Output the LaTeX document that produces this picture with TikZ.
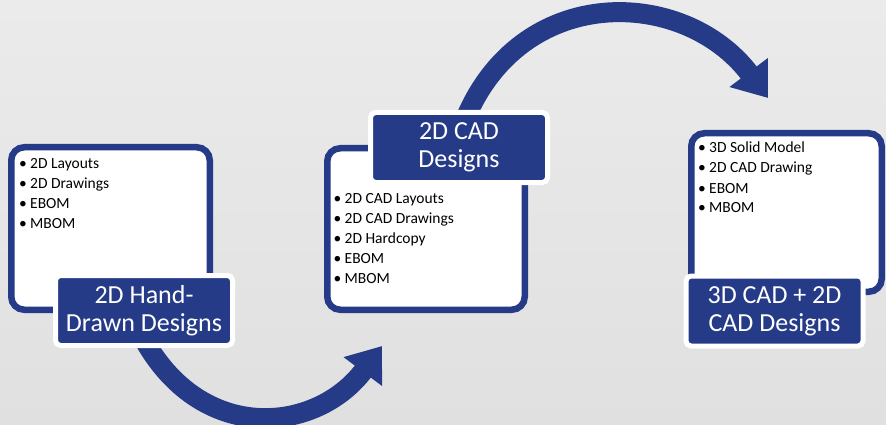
\documentclass[tikz,border=0pt]{standalone}
\usepackage{fontspec}
\setmainfont{Carlito}
\usetikzlibrary{arrows.meta,calc}
\definecolor{navy}{RGB}{38,59,135}
\definecolor{bgtop}{RGB}{235,235,235}
\definecolor{bgbot}{RGB}{224,224,224}
\newcommand\bul{\makebox[11pt][l]{•}}
\pgfdeclarelayer{bg}
\pgfdeclarelayer{flows}
\pgfsetlayers{bg,flows,main}

\begin{document}
\begin{tikzpicture}[x=1pt,y=-1pt,
  panel/.style={draw=navy, line width=6.5pt, fill=white, rounded corners=13pt, inner sep=0pt},
  tag/.style={fill=navy, draw=white, line width=5pt, rounded corners=5pt,
    minimum width=177pt, minimum height=70pt, inner sep=0pt, text=white,
    align=center, font=\fontsize{26}{28}\selectfont},
  items/.style={anchor=base west, inner sep=0pt, font=\fontsize{15.5}{20}\selectfont},
  flow/.style={draw=navy, line width=20pt, -{Triangle[length=32pt,width=46pt]}}
]
\useasboundingbox (0,0) rectangle (886,425);
\begin{pgfonlayer}{bg}
  \shade[top color=bgtop, bottom color=bgbot] (0,0) rectangle (886,425);
\end{pgfonlayer}

% content panels
\node[panel, minimum width=198.5pt, minimum height=162.5pt] (box1) at (110.5,228.5) {};
\node[panel, minimum width=197.5pt, minimum height=161.5pt] (box2) at (426,229) {};
\node[panel, minimum width=190.5pt, minimum height=158.5pt] (box3) at (786.5,212.5) {};

% bullet lists
\node[items] (list1) at (19,168) {\begin{tabular}[t]{@{}l@{}}
  \bul 2D Layouts\\ \bul 2D Drawings\\ \bul EBOM\\ \bul MBOM\end{tabular}};
\node[items] (list2) at (333.5,203) {\begin{tabular}[t]{@{}l@{}}
  \bul 2D CAD Layouts\\ \bul 2D CAD Drawings\\ \bul 2D Hardcopy\\ \bul EBOM\\ \bul MBOM\end{tabular}};
\node[items] (list3) at (698,153) {\begin{tabular}[t]{@{}l@{}}
  \bul 3D Solid Model\\ \bul 2D CAD Drawing\\ \bul EBOM\\ \bul MBOM\end{tabular}};

% stage titles
\node[tag] (lab1) at (144,310.5) {\raisebox{-1.5pt}{2D Hand-}\\\raisebox{-1.5pt}{Drawn Designs}};
\node[tag] (lab2) at (459,147.5) {\raisebox{-1.5pt}{2D CAD}\\\raisebox{-1.5pt}{Designs}};
\node[tag] (lab3) at (774.5,311) {\raisebox{-1.5pt}{3D CAD + 2D}\\\raisebox{-1.5pt}{CAD Designs}};

% curved flow arrows between stages
\coordinate (a1s) at ($(lab1.south)+(-2,-12)$);
\coordinate (a1e) at (382,346);
\coordinate (a2s) at ($(lab2.north)+(5,12)$);
\coordinate (a2e) at (768,98);
\begin{pgfonlayer}{flows}
  \draw[flow] (a1s) .. controls (200,445) and (316,434) .. (a1e);
  \draw[flow] (a2s) .. controls (520,-18) and (684,-13) .. (a2e);
\end{pgfonlayer}
\end{tikzpicture}
\end{document}
